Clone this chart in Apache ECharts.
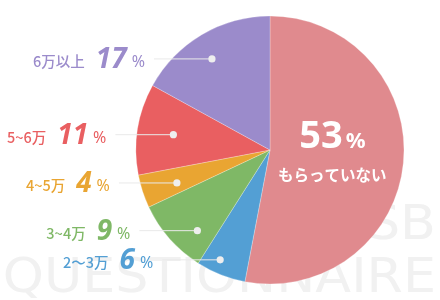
<!DOCTYPE html>
<html>
<head>
<meta charset="utf-8">
<script src="https://cdn.jsdelivr.net/npm/echarts@6/dist/echarts.min.js"></script>
<style>
html,body{margin:0;padding:0;background:#fff;}
#main{width:440px;height:300px;}
</style>
</head>
<body>
<div id="main"></div>
<script>
// ---- data ----
var categories = ['もらっていない', '2〜3万', '3~4万', '4~5万', '5~6万', '6万以上'];
var values = [53, 6, 9, 4, 11, 17];
var centerSubLabel = 'もらっていない';
var watermarkLines = ['SB', 'QUESTIONNAIRE'];

// ---- style ----
var colors = ['#e08a8e', '#539fd4', '#7fb866', '#e9a532', '#e95f61', '#9b8bcb'];
var dotR = [0, 0.90, 0.81, 0.737, 0.73, 0.806];
var dotNudge = [0, 2.8, -6.6, -1.5, 0, -1.9];
var FONT = '"Noto Sans CJK JP", "Noto Sans", sans-serif';

var chart = echarts.init(document.getElementById('main'), null, {renderer: 'canvas'});

var option = {
  animation: false,
  backgroundColor: '#fff',
  textStyle: {fontFamily: FONT},
  series: [{
    type: 'pie',
    z: 2,
    center: [270, 150],
    radius: [0, 134],
    startAngle: 90,
    clockwise: true,
    label: {show: false},
    labelLine: {show: false},
    emphasis: {disabled: true},
    itemStyle: {borderColor: 'rgba(255,255,255,0.5)', borderWidth: 0.5},
    data: categories.map(function (c, i) {
      return {name: c, value: values[i], itemStyle: {color: colors[i]}};
    })
  }],
  graphic: []
};
chart.setOption(option);

function buildGraphics() {
  var data = chart.getModel().getSeriesByIndex(0).getData();
  var els = [];
  // watermark
  els.push({
    type: 'text', z: -10, silent: true, x: 436, y: 227, scaleX: 1.09,
    style: {x: 0, y: 0, text: watermarkLines[0], align: 'right', verticalAlign: 'middle',
      font: '48px "DejaVu Sans"', fill: '#f1f1f1'}
  });
  els.push({
    type: 'text', z: -10, silent: true, x: 436, y: 280, scaleX: 1.09,
    style: {x: 0, y: 0, text: watermarkLines[1], align: 'right', verticalAlign: 'middle',
      font: '48px "DejaVu Sans"', fill: '#f1f1f1'}
  });
  for (var i = 0; i < values.length; i++) {
    var L = data.getItemLayout(i);
    var mid = (L.startAngle + L.endAngle) / 2;
    if (i === 0) {
      var r0 = L.r * 0.46;
      var px = L.cx + Math.cos(mid) * r0 + 1;
      var py = L.cy + Math.sin(mid) * r0 - 2;
      els.push({
        type: 'text', z: 10, silent: true,
        style: {
          x: px, y: py, align: 'center', verticalAlign: 'middle',
          text: '{v|' + values[i] + '}{p|%}\n{s|' + centerSubLabel + '}',
          rich: {
            v: {fill: '#fff', fontSize: 38, fontWeight: 'bold', fontFamily: '"Noto Sans", sans-serif', lineHeight: 42},
            p: {fill: '#fff', fontSize: 22, fontWeight: 'bold', fontFamily: '"Noto Sans", sans-serif', lineHeight: 42, padding: [9, 0, 0, 3]},
            s: {fill: '#fff', fontSize: 15.5, fontWeight: 'bold', fontFamily: FONT, lineHeight: 34}
          }
        }
      });
      continue;
    }
    var a = mid + dotNudge[i] * Math.PI / 180;
    var rr = L.r * dotR[i];
    var dx = L.cx + Math.cos(a) * rr;
    var dy = L.cy + Math.sin(a) * rr;
    var lineStart = dx - 58;
    els.push({
      type: 'line', z: 9, silent: true,
      shape: {x1: lineStart, y1: dy, x2: dx, y2: dy},
      style: {stroke: '#e9e9e9', lineWidth: 1}
    });
    els.push({
      type: 'circle', z: 10, silent: true,
      shape: {cx: dx, cy: dy, r: 3.6},
      style: {fill: '#eeeeee'}
    });
    els.push({
      type: 'text', z: 10, silent: true,
      style: {
        x: lineStart - 9, y: dy + 1, align: 'right', verticalAlign: 'middle',
        text: '{n|' + categories[i] + '}{g| }{v|' + values[i] + '}{p|%}',
        rich: {
          n: {fill: colors[i], fontSize: 14.5, fontWeight: 500, fontFamily: FONT, padding: [3, 0, 0, 0]},
          g: {fontSize: 10, width: 11},
          v: {fill: colors[i], fontSize: 28, fontWeight: 'bold', fontStyle: 'italic', fontFamily: '"Noto Sans", sans-serif', padding: [0, 5, 0, 0]},
          p: {fill: colors[i], fontSize: 16, fontFamily: '"Noto Sans", sans-serif', padding: [5, 0, 0, 0]}
        }
      }
    });
  }
  chart.setOption({graphic: els});
}
buildGraphics();
</script>
</body>
</html>
